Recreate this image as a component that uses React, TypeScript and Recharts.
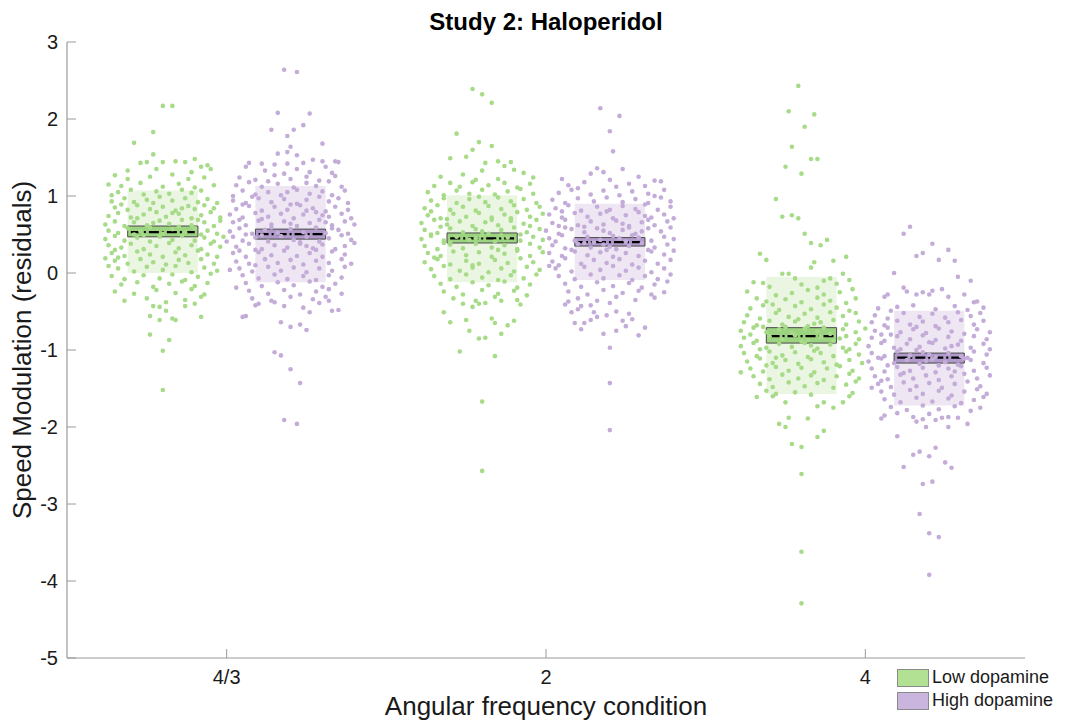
import React from 'react';
import { ScatterChart, Scatter, XAxis, YAxis, ReferenceArea, ReferenceLine } from 'recharts';

// Condition positions on the x axis and their tick labels
const conditionPositions = [1, 2, 3];
const conditionLabels = ['4/3', '2', '4'];
const yTicks = [-5, -4, -3, -2, -1, 0, 1, 2, 3];

// Offset of each dopamine group from its condition centre, and the half width of its boxes
const lowOffset = -0.2;
const highOffset = 0.2;
const boxHalfWidth = 0.11;

// Summary statistics per condition (4/3, 2, 4)
const lowMeans = [0.53, 0.45, -0.82];
const highMeans = [0.505, 0.4, -1.1];
const lowSdBand = [[0.0, 1.07], [-0.12, 1.01], [-1.57, -0.05]];
const highSdBand = [[-0.12, 1.13], [-0.09, 0.9], [-1.72, -0.49]];
const lowSemBand = [[0.47, 0.61], [0.39, 0.52], [-0.91, -0.71]];
const highSemBand = [[0.44, 0.57], [0.35, 0.46], [-1.17, -1.04]];

// Individual residuals: [horizontal jitter, value]
const lowPts43: [number, number][] = [
  [0, 2.17], [0.03, 2.17], [-0.03, 1.83], [-0.09, 1.69], [-0.03, 1.54], [0.1, 1.48],
  [-0.07, 1.43], [-0.05, 1.44], [0.0, 1.44], [0.04, 1.45], [0.07, 1.44], [0.14, 1.4],
  [0.15, 1.35], [0.12, 1.38], [-0.02, 1.35], [0.09, 1.31], [-0.11, 1.33],
  [-0.15, 1.27], [-0.11, 1.22], [-0.04, 1.25], [0.03, 1.28], [0.08, 1.22], [0.13, 1.24],
  [-0.17, 1.15], [-0.13, 1.13], [-0.07, 1.17], [0.0, 1.12], [0.05, 1.16], [0.1, 1.11], [0.16, 1.14],
  [-0.14, 1.05], [-0.1, 1.08], [-0.06, 1.02], [-0.02, 1.06], [0.02, 1.03], [0.06, 1.08], [0.09, 1.04], [0.12, 1.07], [-0.16, 1.01],
  [-0.16, 0.93], [-0.12, 0.97], [-0.09, 0.92], [-0.05, 0.95], [-0.01, 0.99], [0.03, 0.94], [0.07, 0.97], [0.11, 0.92], [0.14, 0.96], [0.17, 0.91], [-0.03, 0.91],
  [-0.15, 0.85], [-0.11, 0.82], [-0.08, 0.88], [-0.04, 0.83], [0.0, 0.86], [0.04, 0.81], [0.08, 0.87], [0.1, 0.83], [0.13, 0.88], [0.16, 0.84], [-0.13, 0.89], [0.06, 0.84],
  [-0.17, 0.74], [-0.14, 0.78], [-0.1, 0.72], [-0.06, 0.76], [-0.02, 0.79], [0.01, 0.73], [0.05, 0.77], [0.09, 0.71], [0.12, 0.75], [0.15, 0.79], [0.18, 0.72], [-0.08, 0.71], [0.03, 0.78],
  [-0.18, 0.63], [-0.15, 0.67], [-0.12, 0.61], [-0.09, 0.66], [-0.05, 0.62], [-0.01, 0.68], [0.02, 0.64], [0.06, 0.69], [0.09, 0.62], [0.13, 0.66], [0.16, 0.61], [0.18, 0.68], [-0.03, 0.65], [0.11, 0.69],
  [-0.17, 0.55], [-0.14, 0.52], [-0.11, 0.58], [-0.07, 0.54], [-0.04, 0.59], [0.0, 0.51], [0.03, 0.57], [0.07, 0.53], [0.1, 0.58], [0.14, 0.55], [0.17, 0.51], [-0.09, 0.5], [0.05, 0.6], [0.12, 0.5],
  [-0.18, 0.44], [-0.15, 0.48], [-0.12, 0.42], [-0.08, 0.46], [-0.04, 0.41], [-0.01, 0.47], [0.03, 0.43], [0.06, 0.48], [0.1, 0.42], [0.13, 0.46], [0.16, 0.41], [0.19, 0.47], [-0.06, 0.49],
  [-0.17, 0.36], [-0.13, 0.33], [-0.1, 0.38], [-0.06, 0.31], [-0.02, 0.35], [0.02, 0.39], [0.05, 0.32], [0.09, 0.36], [0.12, 0.31], [0.15, 0.38], [0.18, 0.34], [-0.15, 0.3],
  [-0.16, 0.26], [-0.12, 0.22], [-0.08, 0.28], [-0.04, 0.24], [0.0, 0.21], [0.04, 0.27], [0.07, 0.23], [0.11, 0.29], [0.14, 0.24], [0.17, 0.21], [-0.14, 0.2],
  [-0.15, 0.16], [-0.11, 0.12], [-0.07, 0.18], [-0.03, 0.14], [0.01, 0.11], [0.05, 0.17], [0.08, 0.13], [0.12, 0.18], [0.16, 0.12], [-0.18, 0.19],
  [-0.14, 0.06], [-0.09, 0.02], [-0.05, 0.08], [0.0, 0.04], [0.04, 0.09], [0.09, 0.01], [0.13, 0.07], [0.17, 0.03], [-0.17, 0.09],
  [-0.16, -0.04], [-0.12, -0.08], [-0.06, -0.03], [-0.01, -0.07], [0.03, -0.02], [0.07, -0.09], [0.11, -0.05], [0.15, -0.01],
  [-0.13, -0.15], [-0.08, -0.12], [-0.03, -0.18], [0.02, -0.14], [0.06, -0.11], [0.1, -0.17], [0.14, -0.13],
  [-0.15, -0.24], [-0.09, -0.27], [-0.02, -0.22], [0.04, -0.26], [0.09, -0.21], [0.13, -0.28],
  [-0.12, -0.36], [-0.05, -0.33], [0.01, -0.38], [0.07, -0.35], [0.12, -0.31],
  [-0.03, -0.43], [-0.01, -0.44], [0.01, -0.49], [-0.04, -0.56], [-0.01, -0.61], [0.03, -0.59], [0.04, -0.61],
  [0.07, -0.43], [0.1, -0.4], [0.12, -0.57], [-0.04, -0.8], [0.02, -0.87], [0, -1.01], [0, -1.52],
];

const highPts43: [number, number][] = [
  [-0.02, 2.64], [0.02, 2.61], [-0.04, 2.08], [0.06, 2.07], [-0.06, 1.86], [0.01, 1.86], [0.04, 1.92], [-0.01, 1.78],
  [0, 1.64], [0.1, 1.68], [-0.04, 1.55], [-0.01, 1.57], [0.02, 1.53],
  [-0.13, 1.43], [-0.09, 1.42], [-0.05, 1.41], [-0.01, 1.42], [0.04, 1.43], [0.07, 1.47], [0.1, 1.45], [0.14, 1.45], [0.15, 1.44],
  [-0.14, 1.38], [0.11, 1.38], [-0.08, 1.33], [0.02, 1.35], [0.06, 1.31], [0.13, 1.3],
  [-0.16, 1.24], [-0.11, 1.21], [-0.05, 1.27], [0.0, 1.22], [0.05, 1.25], [0.09, 1.2], [0.14, 1.26], [-0.02, 1.29],
  [-0.17, 1.14], [-0.13, 1.18], [-0.09, 1.12], [-0.04, 1.16], [0.01, 1.11], [0.05, 1.17], [0.08, 1.13], [0.12, 1.19], [0.16, 1.12], [-0.07, 1.19],
  [-0.15, 1.07], [-0.11, 1.02], [-0.07, 1.05], [-0.03, 1.01], [0.02, 1.08], [0.06, 1.03], [0.1, 1.06], [0.13, 1.01], [0.17, 1.07], [-0.18, 1.0], [-0.01, 1.05],
  [-0.18, 0.94], [-0.14, 0.91], [-0.1, 0.97], [-0.06, 0.92], [-0.02, 0.96], [0.02, 0.9], [0.05, 0.95], [0.09, 0.99], [0.12, 0.93], [0.15, 0.97], [0.18, 0.91], [-0.12, 0.99],
  [-0.17, 0.83], [-0.13, 0.87], [-0.09, 0.81], [-0.05, 0.86], [-0.01, 0.82], [0.03, 0.88], [0.07, 0.84], [0.11, 0.8], [0.14, 0.86], [0.18, 0.82], [-0.15, 0.89], [0.05, 0.81], [0.0, 0.89],
  [-0.19, 0.76], [-0.15, 0.72], [-0.11, 0.78], [-0.07, 0.73], [-0.03, 0.77], [0.01, 0.71], [0.04, 0.76], [0.08, 0.79], [0.12, 0.73], [0.16, 0.77], [0.19, 0.71], [-0.09, 0.7], [0.1, 0.75],
  [-0.18, 0.66], [-0.14, 0.62], [-0.1, 0.68], [-0.06, 0.63], [-0.02, 0.67], [0.02, 0.61], [0.06, 0.65], [0.09, 0.69], [0.13, 0.62], [0.17, 0.67], [0.2, 0.63], [-0.16, 0.69], [0.0, 0.64], [0.11, 0.66],
  [-0.19, 0.54], [-0.16, 0.58], [-0.12, 0.51], [-0.08, 0.56], [-0.04, 0.52], [0.0, 0.57], [0.04, 0.53], [0.08, 0.59], [0.11, 0.52], [0.15, 0.56], [0.18, 0.51], [-0.06, 0.59], [0.13, 0.58], [-0.14, 0.5],
  [-0.18, 0.47], [-0.15, 0.42], [-0.11, 0.46], [-0.07, 0.41], [-0.03, 0.48], [0.01, 0.43], [0.05, 0.47], [0.09, 0.41], [0.12, 0.45], [0.16, 0.49], [0.19, 0.43], [-0.09, 0.49], [0.03, 0.4], [-0.2, 0.41],
  [-0.17, 0.34], [-0.13, 0.38], [-0.09, 0.31], [-0.05, 0.36], [-0.01, 0.33], [0.03, 0.38], [0.07, 0.32], [0.1, 0.37], [0.14, 0.31], [0.17, 0.35], [0.2, 0.39], [-0.11, 0.3], [0.05, 0.35],
  [-0.18, 0.26], [-0.14, 0.21], [-0.1, 0.27], [-0.06, 0.23], [-0.02, 0.29], [0.02, 0.22], [0.06, 0.26], [0.1, 0.21], [0.13, 0.28], [0.17, 0.24], [-0.16, 0.29], [0.08, 0.3],
  [-0.17, 0.15], [-0.13, 0.12], [-0.08, 0.18], [-0.04, 0.13], [0.0, 0.17], [0.04, 0.11], [0.08, 0.16], [0.12, 0.13], [0.16, 0.18], [0.19, 0.12], [-0.11, 0.1],
  [-0.16, 0.06], [-0.12, 0.02], [-0.07, 0.08], [-0.03, 0.03], [0.01, 0.07], [0.05, 0.01], [0.09, 0.06], [0.13, 0.03], [0.17, 0.08], [-0.19, 0.04],
  [-0.15, -0.03], [-0.1, -0.07], [-0.05, -0.02], [-0.01, -0.08], [0.04, -0.04], [0.08, -0.09], [0.12, -0.03], [0.16, -0.06],
  [-0.14, -0.13], [-0.09, -0.17], [-0.04, -0.12], [0.01, -0.16], [0.06, -0.11], [0.1, -0.18], [0.14, -0.14], [-0.17, -0.19],
  [-0.13, -0.23], [-0.07, -0.27], [-0.02, -0.22], [0.03, -0.28], [0.08, -0.24], [0.12, -0.21], [0.16, -0.27],
  [-0.12, -0.33], [-0.06, -0.36], [0.0, -0.31], [0.07, -0.34], [0.11, -0.31],
  [-0.15, -0.57], [-0.14, -0.56], [-0.11, -0.42], [-0.1, -0.4], [-0.05, -0.38], [-0.02, -0.43], [-0.03, -0.64], [0, -0.7],
  [0.03, -0.67], [0.05, -0.74], [0.04, -0.45], [0.06, -0.51], [0.09, -0.39], [0.12, -0.36], [0.13, -0.49], [0.15, -0.48],
  [-0.05, -1.03], [-0.03, -1.07], [0, -1.25], [0.03, -1.43], [-0.02, -1.91], [0.02, -1.96],
];

const lowPts2: [number, number][] = [
  [-0.03, 2.39], [0, 2.32], [0.03, 2.21], [-0.08, 1.81], [-0.01, 1.7], [-0.1, 1.49], [-0.05, 1.51], [-0.03, 1.6],
  [0.03, 1.65], [0.01, 1.43], [0.05, 1.45], [0.07, 1.39], [0.09, 1.44], [0.1, 1.34], [-0.1, 1.17],
  [-0.13, 1.25], [-0.06, 1.28], [0.0, 1.33], [0.05, 1.22], [0.13, 1.3], [-0.02, 1.21], [0.16, 1.24],
  [-0.15, 1.13], [-0.07, 1.12], [-0.03, 1.18], [0.02, 1.14], [0.07, 1.17], [0.11, 1.11], [0.15, 1.16],
  [-0.17, 1.05], [-0.12, 1.01], [-0.08, 1.07], [-0.04, 1.03], [0.0, 1.08], [0.04, 1.02], [0.08, 1.06], [0.12, 1.09], [0.16, 1.03],
  [-0.16, 0.94], [-0.12, 0.97], [-0.08, 0.91], [-0.04, 0.96], [0.01, 0.92], [0.05, 0.98], [0.09, 0.93], [0.13, 0.96], [0.17, 0.91], [-0.01, 0.99],
  [-0.18, 0.84], [-0.14, 0.88], [-0.1, 0.82], [-0.06, 0.86], [-0.02, 0.81], [0.02, 0.87], [0.06, 0.83], [0.1, 0.88], [0.14, 0.82], [0.18, 0.86], [-0.16, 0.8],
  [-0.17, 0.75], [-0.13, 0.71], [-0.09, 0.77], [-0.05, 0.73], [-0.01, 0.78], [0.03, 0.72], [0.07, 0.76], [0.11, 0.79], [0.15, 0.73], [0.19, 0.77], [-0.11, 0.7], [0.09, 0.71],
  [-0.19, 0.65], [-0.15, 0.69], [-0.11, 0.63], [-0.07, 0.67], [-0.03, 0.61], [0.01, 0.66], [0.05, 0.62], [0.09, 0.68], [0.13, 0.64], [0.17, 0.69], [-0.13, 0.6], [0.03, 0.69], [0.15, 0.61],
  [-0.18, 0.56], [-0.14, 0.52], [-0.1, 0.58], [-0.06, 0.53], [-0.02, 0.57], [0.02, 0.51], [0.06, 0.56], [0.1, 0.59], [0.14, 0.53], [0.18, 0.57], [-0.16, 0.5], [0.0, 0.54], [0.12, 0.5],
  [-0.19, 0.44], [-0.16, 0.48], [-0.12, 0.42], [-0.08, 0.47], [-0.04, 0.43], [0.0, 0.49], [0.04, 0.41], [0.08, 0.46], [0.12, 0.42], [0.16, 0.47], [0.19, 0.43], [-0.1, 0.4], [0.06, 0.49], [-0.02, 0.45],
  [-0.18, 0.35], [-0.14, 0.31], [-0.1, 0.37], [-0.06, 0.32], [-0.02, 0.38], [0.03, 0.33], [0.07, 0.36], [0.11, 0.31], [0.15, 0.38], [0.18, 0.33], [-0.12, 0.39], [0.05, 0.3],
  [-0.17, 0.26], [-0.13, 0.22], [-0.09, 0.28], [-0.05, 0.23], [-0.01, 0.27], [0.03, 0.21], [0.07, 0.25], [0.11, 0.29], [0.15, 0.22], [0.19, 0.27], [-0.15, 0.2],
  [-0.18, 0.14], [-0.14, 0.18], [-0.1, 0.11], [-0.05, 0.16], [-0.01, 0.12], [0.04, 0.17], [0.08, 0.13], [0.12, 0.19], [0.16, 0.14], [-0.03, 0.1],
  [-0.16, 0.05], [-0.12, 0.09], [-0.07, 0.03], [-0.03, 0.07], [0.02, 0.01], [0.06, 0.06], [0.1, 0.02], [0.14, 0.08], [0.18, 0.04],
  [-0.15, -0.04], [-0.1, -0.08], [-0.05, -0.02], [0.0, -0.06], [0.05, -0.09], [0.09, -0.03], [0.13, -0.07], [0.17, -0.02],
  [-0.13, -0.14], [-0.08, -0.18], [-0.03, -0.12], [0.02, -0.16], [0.07, -0.11], [0.11, -0.19], [0.15, -0.15],
  [-0.12, -0.24], [-0.06, -0.28], [0.0, -0.22], [0.05, -0.27], [0.1, -0.23], [0.14, -0.29],
  [-0.09, -0.33], [-0.02, -0.36], [0.04, -0.31], [0.11, -0.35],
  [-0.12, -0.51], [-0.1, -0.64], [-0.06, -0.4], [-0.03, -0.44], [-0.01, -0.4], [0.01, -0.39], [0.06, -0.36], [0.12, -0.41],
  [-0.05, -0.61], [0.03, -0.59], [0.04, -0.65], [0.08, -0.68], [0.1, -0.62], [-0.04, -0.75], [-0.01, -0.85], [0.01, -0.84],
  [0.06, -0.79], [-0.07, -1.02], [0.04, -1.08], [0, -1.67], [0, -2.57],
];

const highPts2: [number, number][] = [
  [-0.03, 2.14], [0.03, 2.04], [0, 1.84], [0.01, 1.58], [-0.04, 1.36], [-0.02, 1.31], [0.04, 1.35], [-0.06, 1.29],
  [0.09, 1.25], [0.14, 1.2], [0.16, 1.19], [-0.1, 1.1],
  [-0.13, 1.14], [-0.08, 1.18], [0.0, 1.21], [0.06, 1.16], [0.11, 1.13], [-0.15, 1.22], [0.02, 1.12],
  [-0.16, 1.04], [-0.12, 1.08], [-0.06, 1.02], [-0.02, 1.07], [0.03, 1.01], [0.07, 1.06], [0.12, 1.03], [0.17, 1.08], [0.14, 1.0],
  [-0.18, 0.95], [-0.14, 0.91], [-0.1, 0.97], [-0.05, 0.93], [-0.01, 0.98], [0.04, 0.92], [0.08, 0.96], [0.12, 0.91], [0.16, 0.98], [0.19, 0.93],
  [-0.17, 0.84], [-0.13, 0.88], [-0.09, 0.81], [-0.04, 0.86], [0.0, 0.82], [0.04, 0.87], [0.08, 0.83], [0.11, 0.89], [0.15, 0.82], [0.19, 0.86], [-0.15, 0.8],
  [-0.19, 0.76], [-0.15, 0.72], [-0.11, 0.78], [-0.07, 0.73], [-0.03, 0.77], [0.01, 0.71], [0.05, 0.75], [0.09, 0.79], [0.13, 0.72], [0.17, 0.76], [0.2, 0.71], [-0.01, 0.8], [0.11, 0.74],
  [-0.18, 0.65], [-0.14, 0.69], [-0.1, 0.62], [-0.06, 0.67], [-0.02, 0.63], [0.02, 0.68], [0.06, 0.61], [0.1, 0.66], [0.14, 0.62], [0.18, 0.67], [-0.16, 0.61], [0.04, 0.64], [0.12, 0.69], [-0.08, 0.6],
  [-0.2, 0.55], [-0.16, 0.51], [-0.12, 0.57], [-0.08, 0.53], [-0.04, 0.58], [0.0, 0.52], [0.04, 0.56], [0.08, 0.51], [0.12, 0.58], [0.16, 0.54], [0.19, 0.59], [-0.02, 0.55], [0.1, 0.54], [-0.14, 0.59], [0.06, 0.59],
  [-0.19, 0.45], [-0.15, 0.49], [-0.11, 0.42], [-0.07, 0.47], [-0.03, 0.43], [0.01, 0.48], [0.05, 0.41], [0.09, 0.46], [0.13, 0.42], [0.17, 0.47], [0.2, 0.44], [-0.05, 0.4], [0.07, 0.49], [-0.17, 0.41], [0.03, 0.45],
  [-0.18, 0.36], [-0.14, 0.32], [-0.1, 0.38], [-0.06, 0.33], [-0.02, 0.37], [0.02, 0.31], [0.06, 0.35], [0.1, 0.39], [0.14, 0.33], [0.18, 0.37], [-0.12, 0.3], [0.0, 0.34], [0.12, 0.3], [-0.08, 0.39],
  [-0.19, 0.26], [-0.15, 0.22], [-0.11, 0.28], [-0.07, 0.23], [-0.03, 0.27], [0.01, 0.21], [0.05, 0.26], [0.09, 0.22], [0.13, 0.28], [0.17, 0.24], [0.2, 0.29], [-0.01, 0.3],
  [-0.18, 0.15], [-0.14, 0.19], [-0.09, 0.12], [-0.05, 0.17], [-0.01, 0.13], [0.03, 0.18], [0.07, 0.11], [0.11, 0.16], [0.15, 0.12], [0.19, 0.17], [-0.16, 0.1],
  [-0.17, 0.06], [-0.12, 0.02], [-0.08, 0.08], [-0.03, 0.04], [0.01, 0.09], [0.05, 0.03], [0.09, 0.07], [0.13, 0.01], [0.17, 0.06], [-0.19, 0.09],
  [-0.16, -0.04], [-0.11, -0.08], [-0.06, -0.02], [-0.02, -0.07], [0.03, -0.03], [0.07, -0.09], [0.11, -0.04], [0.15, -0.08], [0.19, -0.02],
  [-0.14, -0.14], [-0.09, -0.18], [-0.04, -0.12], [0.01, -0.17], [0.06, -0.13], [0.1, -0.19], [0.14, -0.15], [0.18, -0.11],
  [-0.13, -0.24], [-0.07, -0.28], [-0.02, -0.22], [0.04, -0.26], [0.09, -0.23], [0.13, -0.28], [0.17, -0.25],
  [-0.1, -0.33], [-0.04, -0.36], [0.02, -0.31], [0.08, -0.35], [0.14, -0.32],
  [-0.14, -0.41], [-0.13, -0.37], [-0.12, -0.51], [-0.1, -0.47], [-0.09, -0.43], [-0.06, -0.42], [-0.05, -0.51],
  [-0.11, -0.65], [-0.09, -0.73], [-0.08, -0.65], [-0.06, -0.61], [-0.04, -0.57], [-0.01, -0.55], [0.02, -0.5], [0, -0.39],
  [-0.02, -0.79], [0.02, -0.75], [0.04, -0.62], [0.06, -0.53], [0.07, -0.6], [0.05, -0.69], [0.09, -0.81], [0.11, -0.71],
  [0, -0.97], [0, -1.43], [0, -2.04],
];

const lowPts4: [number, number][] = [
  [-0.01, 2.43], [-0.04, 2.1], [0.04, 2.06], [0.01, 1.9], [-0.03, 1.64], [0.03, 1.48], [0.05, 1.48], [-0.05, 1.38], [0, 1.29],
  [-0.08, 0.96], [-0.06, 0.73], [-0.03, 0.75], [-0.01, 0.71], [0.01, 0.51], [0.03, 0.39], [0.06, 0.36], [0.08, 0.43],
  [-0.13, 0.25], [-0.11, 0.17], [0.04, 0.14], [0.03, 0.07], [0.1, 0.16], [0.14, 0.21], [-0.06, -0.01], [-0.04, -0.01],
  [-0.02, -0.07], [0.13, -0.01], [-0.15, -0.12], [-0.12, -0.13], [0.07, -0.1], [0.09, -0.07], [0.15, -0.09], [-0.14, -0.33], [-0.08, -0.29],
  [-0.1, -0.18], [0.0, -0.15], [0.05, -0.19], [0.11, -0.14],
  [-0.17, -0.24], [-0.03, -0.26], [0.02, -0.22], [0.07, -0.28], [0.12, -0.25], [0.16, -0.21],
  [-0.11, -0.37], [-0.05, -0.34], [0.0, -0.38], [0.05, -0.32], [0.09, -0.36], [0.14, -0.39], [0.17, -0.33],
  [-0.16, -0.46], [-0.12, -0.42], [-0.07, -0.48], [-0.02, -0.43], [0.03, -0.47], [0.07, -0.41], [0.11, -0.45], [0.15, -0.49], [-0.09, -0.41],
  [-0.17, -0.55], [-0.13, -0.59], [-0.08, -0.52], [-0.04, -0.57], [0.01, -0.53], [0.05, -0.58], [0.09, -0.51], [0.13, -0.56], [0.17, -0.52], [-0.01, -0.6],
  [-0.18, -0.64], [-0.14, -0.68], [-0.1, -0.62], [-0.06, -0.67], [-0.02, -0.63], [0.02, -0.69], [0.06, -0.64], [0.1, -0.61], [0.14, -0.67], [0.18, -0.63], [-0.12, -0.7], [0.04, -0.66],
  [-0.19, -0.75], [-0.15, -0.71], [-0.11, -0.77], [-0.07, -0.73], [-0.03, -0.78], [0.01, -0.72], [0.05, -0.76], [0.09, -0.79], [0.13, -0.73], [0.17, -0.77], [0.2, -0.72], [-0.05, -0.7], [0.07, -0.71],
  [-0.18, -0.84], [-0.14, -0.88], [-0.1, -0.82], [-0.06, -0.86], [-0.02, -0.81], [0.02, -0.87], [0.06, -0.83], [0.1, -0.88], [0.14, -0.82], [0.18, -0.86], [-0.16, -0.8], [0.0, -0.89], [0.12, -0.85],
  [-0.19, -0.95], [-0.15, -0.91], [-0.11, -0.97], [-0.07, -0.92], [-0.03, -0.96], [0.01, -0.91], [0.05, -0.98], [0.09, -0.93], [0.13, -0.97], [0.17, -0.92], [-0.13, -0.99], [0.03, -0.94], [0.15, -0.99],
  [-0.18, -1.04], [-0.14, -1.08], [-0.1, -1.02], [-0.06, -1.07], [-0.02, -1.03], [0.02, -1.09], [0.06, -1.04], [0.1, -1.08], [0.14, -1.02], [0.18, -1.06], [-0.08, -1.1], [0.04, -1.01],
  [-0.17, -1.15], [-0.13, -1.11], [-0.09, -1.17], [-0.05, -1.13], [-0.01, -1.18], [0.03, -1.12], [0.07, -1.16], [0.11, -1.19], [0.15, -1.13], [0.19, -1.17], [-0.11, -1.2],
  [-0.16, -1.24], [-0.12, -1.28], [-0.08, -1.22], [-0.04, -1.27], [0.0, -1.23], [0.04, -1.29], [0.08, -1.24], [0.12, -1.21], [0.16, -1.27], [-0.19, -1.29],
  [-0.15, -1.34], [-0.1, -1.38], [-0.06, -1.32], [-0.01, -1.37], [0.03, -1.33], [0.07, -1.39], [0.11, -1.34], [0.15, -1.31], [0.18, -1.37],
  [-0.13, -1.44], [-0.09, -1.48], [-0.04, -1.42], [0.01, -1.47], [0.05, -1.43], [0.1, -1.49], [0.14, -1.45], [0.17, -1.41],
  [-0.11, -1.53], [-0.02, -1.55], [0.03, -1.58], [-0.08, -1.57],
  [-0.14, -1.61], [-0.09, -1.6], [-0.05, -1.68], [0.05, -1.73], [0.07, -1.68], [0.1, -1.75], [0.13, -1.68], [0.15, -1.6], [0.16, -1.56],
  [-0.04, -1.88], [0.02, -1.89], [-0.07, -1.96], [-0.05, -2.0], [0.05, -2.13], [0.07, -2.05], [-0.03, -2.22], [0, -2.26],
  [0, -2.61], [0, -3.62], [0, -4.29],
];

const highPts4: [number, number][] = [
  [-0.06, 0.6], [-0.08, 0.51], [0.01, 0.38], [-0.02, 0.26], [-0.04, 0.22], [0.06, 0.3], [0.03, 0.17], [0.08, 0.16],
  [-0.11, 0.0], [0.09, -0.05], [0.13, -0.1], [-0.14, -0.31], [-0.13, -0.28], [-0.08, -0.19], [-0.07, -0.24], [-0.04, -0.28],
  [-0.02, -0.25], [0, -0.28], [0.01, -0.23], [0.04, -0.21], [0.06, -0.31], [0.11, -0.28], [0.14, -0.38], [0.15, -0.37], [-0.1, -0.44],
  [-0.16, -0.46], [-0.05, -0.42], [0.02, -0.47], [0.08, -0.43], [0.12, -0.48], [0.17, -0.45], [-0.12, -0.49],
  [-0.17, -0.55], [-0.13, -0.59], [-0.08, -0.52], [-0.03, -0.57], [0.01, -0.53], [0.05, -0.58], [0.09, -0.51], [0.13, -0.56], [0.16, -0.52],
  [-0.18, -0.64], [-0.14, -0.68], [-0.1, -0.62], [-0.06, -0.67], [-0.02, -0.63], [0.02, -0.69], [0.06, -0.64], [0.1, -0.61], [0.14, -0.67], [0.17, -0.62], [-0.04, -0.7],
  [-0.17, -0.75], [-0.13, -0.71], [-0.09, -0.77], [-0.05, -0.73], [-0.01, -0.78], [0.03, -0.72], [0.07, -0.76], [0.11, -0.79], [0.15, -0.73], [0.19, -0.77], [-0.15, -0.8],
  [-0.18, -0.84], [-0.14, -0.88], [-0.1, -0.82], [-0.06, -0.86], [-0.02, -0.81], [0.02, -0.87], [0.06, -0.83], [0.1, -0.88], [0.14, -0.82], [0.18, -0.86], [0.0, -0.9], [-0.12, -0.8],
  [-0.19, -0.95], [-0.15, -0.91], [-0.11, -0.97], [-0.07, -0.92], [-0.03, -0.96], [0.01, -0.91], [0.05, -0.98], [0.09, -0.93], [0.13, -0.97], [0.17, -0.92], [-0.09, -0.99], [0.07, -0.95], [0.19, -0.99],
  [-0.18, -1.04], [-0.14, -1.08], [-0.1, -1.02], [-0.06, -1.07], [-0.02, -1.03], [0.02, -1.09], [0.06, -1.04], [0.1, -1.08], [0.14, -1.02], [0.18, -1.06], [-0.16, -1.1], [0.0, -1.06], [0.12, -1.1], [-0.04, -1.0],
  [-0.19, -1.15], [-0.15, -1.11], [-0.11, -1.17], [-0.07, -1.13], [-0.03, -1.18], [0.01, -1.12], [0.05, -1.16], [0.09, -1.19], [0.13, -1.13], [0.17, -1.17], [-0.13, -1.2], [0.03, -1.2], [0.11, -1.11], [-0.01, -1.14],
  [-0.18, -1.24], [-0.14, -1.28], [-0.1, -1.22], [-0.06, -1.27], [-0.02, -1.23], [0.02, -1.29], [0.06, -1.24], [0.1, -1.21], [0.14, -1.27], [0.18, -1.23], [-0.08, -1.3], [0.08, -1.28],
  [-0.17, -1.34], [-0.13, -1.38], [-0.09, -1.32], [-0.05, -1.37], [-0.01, -1.33], [0.03, -1.39], [0.07, -1.34], [0.11, -1.31], [0.15, -1.37], [0.19, -1.33], [-0.15, -1.4],
  [-0.16, -1.44], [-0.12, -1.48], [-0.08, -1.42], [-0.04, -1.47], [0.0, -1.43], [0.04, -1.49], [0.08, -1.44], [0.12, -1.41], [0.16, -1.47], [-0.18, -1.49],
  [-0.15, -1.54], [-0.11, -1.58], [-0.06, -1.52], [-0.02, -1.57], [0.03, -1.53], [0.07, -1.59], [0.11, -1.54], [0.15, -1.51], [0.18, -1.57],
  [-0.14, -1.64], [-0.09, -1.68], [-0.04, -1.62], [0.01, -1.67], [0.06, -1.63], [0.1, -1.69], [0.14, -1.65], [0.17, -1.61],
  [-0.12, -1.74], [-0.07, -1.78], [-0.02, -1.72], [0.03, -1.77], [0.08, -1.73], [0.13, -1.79], [0.16, -1.75],
  [-0.15, -1.89], [-0.14, -1.85], [-0.05, -1.87], [-0.04, -1.93], [-0.02, -1.9], [-0.01, -2.0], [0.02, -1.91], [0.04, -1.88],
  [0.06, -1.87], [0.06, -2.0], [0.09, -1.88], [0.12, -1.96], [-0.1, -1.82], [0.0, -1.83], [-0.1, -2.12], [-0.05, -2.36],
  [-0.03, -2.32], [0, -2.38], [0.02, -2.27], [-0.08, -2.52], [0.05, -2.46], [0.07, -2.53], [-0.02, -2.74], [0.01, -2.71],
  [-0.03, -3.13], [0, -3.38], [0.03, -3.43], [0, -3.92],
];

const lowByCondition = [lowPts43, lowPts2, lowPts4];
const highByCondition = [highPts43, highPts2, highPts4];

// Colours
const lowDot = '#a7db88';
const highDot = '#c4acd9';
const lowSdFill = '#eaf6e2';
const highSdFill = '#eee6f3';
const lowSemFill = '#92cf75';
const highSemFill = '#a991c5';
const lowSwatch = '#b2e194';
const highSwatch = '#c9b5dd';
const axisGrey = '#9a9a9a';
const textDark = '#1a1a1a';
const FONT = '"Liberation Sans", Arial, Helvetica, sans-serif';

const toPoints = (sets: [number, number][][], offset: number) =>
  sets.flatMap((pts, i) => pts.map(([dx, y]) => ({ x: conditionPositions[i] + offset + dx, y })));

const lowData = toPoints(lowByCondition, lowOffset);
const highData = toPoints(highByCondition, highOffset);

const makeDot = (color: string) => (props: any) => (
  <circle cx={props.cx} cy={props.cy} r={2.3} fill={color} />
);

type Group = {
  offset: number;
  means: number[];
  sd: number[][];
  sem: number[][];
  sdFill: string;
  semFill: string;
};

const groups: Group[] = [
  { offset: lowOffset, means: lowMeans, sd: lowSdBand, sem: lowSemBand, sdFill: lowSdFill, semFill: lowSemFill },
  { offset: highOffset, means: highMeans, sd: highSdBand, sem: highSemBand, sdFill: highSdFill, semFill: highSemFill },
];

export default function App() {
  const sdAreas: React.ReactNode[] = [];
  const semAreas: React.ReactNode[] = [];
  const meanLines: React.ReactNode[] = [];
  groups.forEach((g, gi) => {
    conditionPositions.forEach((c, ci) => {
      const x1 = c + g.offset - boxHalfWidth;
      const x2 = c + g.offset + boxHalfWidth;
      sdAreas.push(
        <ReferenceArea key={`sd-${gi}-${ci}`} x1={x1} x2={x2} y1={g.sd[ci][0]} y2={g.sd[ci][1]}
          fill={g.sdFill} fillOpacity={1} stroke="none" />
      );
      semAreas.push(
        <ReferenceArea key={`sem-${gi}-${ci}`} x1={x1} x2={x2} y1={g.sem[ci][0]} y2={g.sem[ci][1]}
          fill={g.semFill} fillOpacity={0.9} stroke="#4a4a4a" strokeWidth={1} />
      );
      meanLines.push(
        <ReferenceLine key={`mean-${gi}-${ci}`}
          segment={[{ x: x1 + 0.01, y: g.means[ci] }, { x: x2 - 0.01, y: g.means[ci] }]}
          stroke="#000" strokeWidth={2.2} strokeDasharray="10 3 2 3" />
      );
    });
  });

  return (
    <div style={{ position: 'absolute', left: 0, top: 0, width: 1065, height: 720, background: '#fff', fontFamily: FONT }}>
      <ScatterChart width={1065} height={720} margin={{ top: 42, right: 40, bottom: 0, left: 0 }}>
        <XAxis
          type="number"
          dataKey="x"
          domain={[0.5, 3.5]}
          ticks={conditionPositions}
          tickFormatter={(v: number) => conditionLabels[conditionPositions.indexOf(v)] ?? ''}
          height={62}
          allowDataOverflow
          axisLine={{ stroke: axisGrey, strokeWidth: 1.2 }}
          tickLine={{ stroke: axisGrey, strokeWidth: 1 }}
          tickSize={-9}
          tickMargin={21}
          tick={{ fill: textDark, fontSize: 20, fontFamily: FONT }}
        />
        <YAxis
          type="number"
          dataKey="y"
          domain={[-5, 3]}
          ticks={yTicks}
          width={67}
          allowDataOverflow
          axisLine={{ stroke: axisGrey, strokeWidth: 1.2 }}
          tickLine={{ stroke: axisGrey, strokeWidth: 1 }}
          tickSize={-9}
          tickMargin={18}
          tick={{ fill: textDark, fontSize: 20, fontFamily: FONT }}
        />
        {sdAreas}
        {semAreas}
        <Scatter data={lowData} shape={makeDot(lowDot)} isAnimationActive={false} />
        <Scatter data={highData} shape={makeDot(highDot)} isAnimationActive={false} />
        {meanLines}
      </ScatterChart>

      <div style={{ position: 'absolute', left: 346, top: 9, width: 400, textAlign: 'center', fontWeight: 700, fontSize: 24, lineHeight: '26px', color: '#000' }}>
        Study 2: Haloperidol
      </div>
      <div style={{ position: 'absolute', left: 22 - 300, top: 350 - 16, width: 600, height: 32, lineHeight: '32px', textAlign: 'center', fontSize: 26, color: textDark, transform: 'rotate(-90deg)', transformOrigin: '50% 50%' }}>
        Speed Modulation (residuals)
      </div>
      <div style={{ position: 'absolute', left: 246, top: 690, width: 600, height: 32, lineHeight: '32px', textAlign: 'center', fontSize: 26, color: textDark }}>
        Angular frequency condition
      </div>

      <div style={{ position: 'absolute', left: 897, top: 669, fontSize: 18, color: textDark }}>
        {[['Low dopamine', lowSwatch], ['High dopamine', highSwatch]].map(([label, color], i) => (
          <div key={label} style={{ display: 'flex', alignItems: 'center', height: 17, marginBottom: i === 0 ? 6 : 0 }}>
            <div style={{ width: 30, height: 16, background: color, border: '1px solid #8a8a8a', marginRight: 3 }} />
            <span style={{ lineHeight: '17px' }}>{label}</span>
          </div>
        ))}
      </div>
    </div>
  );
}
